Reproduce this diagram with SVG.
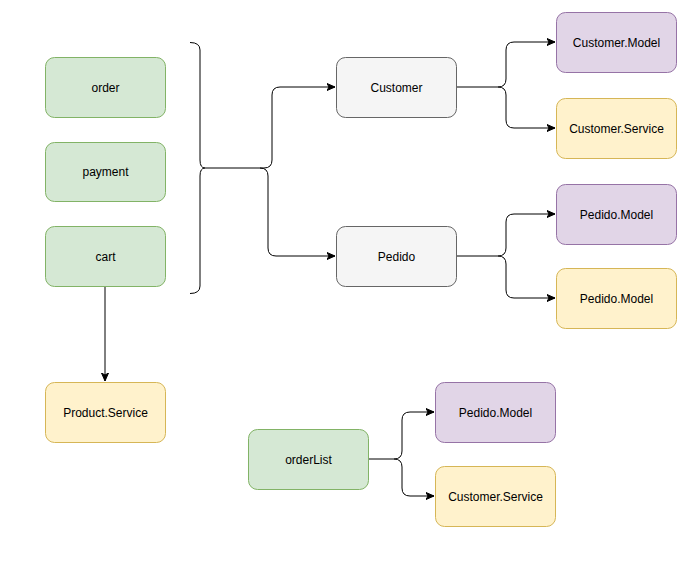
<svg xmlns="http://www.w3.org/2000/svg" width="696" height="579" viewBox="0 0 696 579">
<style>
.n rect{stroke-width:1}
.g rect{fill:#d5e8d4;stroke:#82b366}
.p rect{fill:#e1d5e7;stroke:#9673a6}
.y rect{fill:#fff2cc;stroke:#d6b656}
.k rect{fill:#f5f5f5;stroke:#666666}
text{font-family:"Liberation Sans",Arial,sans-serif;font-size:12px;fill:#000;text-anchor:middle;dominant-baseline:central}
.c path{fill:none;stroke:#000;stroke-width:1}
</style>
<defs>
<marker id="a" markerWidth="10" markerHeight="10" refX="8" refY="5" orient="auto" markerUnits="userSpaceOnUse">
<path d="M0,1.5 L8,5 L0,8.5 L2,5 Z" fill="#000" stroke="#000" stroke-width="1"/>
</marker>
</defs>
<rect width="696" height="579" fill="#fff"/>
<g class="c" id="connectors">
<path d="M190,42.5 Q200,42.5 200,50 L200,160 Q200,168 205,168 Q200,168 200,176 L200,286 Q200,293.5 190,293.5"/>
<path d="M205,168 L264,168 Q272,168 272,160 L272,95 Q272,87 280,87 L335,87" marker-end="url(#a)"/>
<path d="M260,168 Q268,168 268,176 L268,248 Q268,256 276,256 L335,256" marker-end="url(#a)"/>
<path d="M456,87 L498,87 Q506,87 506,79 L506,50 Q506,42 514,42 L555,42" marker-end="url(#a)"/>
<path d="M498,87 Q506,87 506,95 L506,120 Q506,128 514,128 L555,128" marker-end="url(#a)"/>
<path d="M456,256 L498,256 Q506,256 506,248 L506,222 Q506,214 514,214 L555,214" marker-end="url(#a)"/>
<path d="M498,256 Q506,256 506,264 L506,290 Q506,298 514,298 L555,298" marker-end="url(#a)"/>
<path d="M368,459 L394,459 Q402,459 402,451 L402,420 Q402,412 410,412 L434,412" marker-end="url(#a)"/>
<path d="M394,459 Q402,459 402,467 L402,488 Q402,496 410,496 L434,496" marker-end="url(#a)"/>
<path d="M105,286 L105,381" marker-end="url(#a)"/>
</g>
<g id="order" class="n g"><rect x="45.5" y="57.5" width="120" height="60" rx="9"/><text x="105.5" y="87.5">order</text></g>
<g id="payment" class="n g"><rect x="45.5" y="142.5" width="120" height="59" rx="9"/><text x="105.5" y="172">payment</text></g>
<g id="cart" class="n g"><rect x="45.5" y="226.5" width="120" height="60" rx="9"/><text x="105.5" y="256.5">cart</text></g>
<g id="product-service" class="n y"><rect x="45.5" y="382.5" width="120" height="60" rx="9"/><text x="105.5" y="412.5">Product.Service</text></g>
<g id="customer" class="n k"><rect x="336.5" y="57.5" width="120" height="60" rx="9"/><text x="396.5" y="87.5">Customer</text></g>
<g id="pedido" class="n k"><rect x="336.5" y="226.5" width="120" height="60" rx="9"/><text x="396.5" y="256.5">Pedido</text></g>
<g id="customer-model" class="n p"><rect x="556.5" y="12.5" width="120" height="60" rx="9"/><text x="616.5" y="42.5">Customer.Model</text></g>
<g id="customer-service" class="n y"><rect x="556.5" y="98.5" width="120" height="60" rx="9"/><text x="616.5" y="128.5">Customer.Service</text></g>
<g id="pedido-model" class="n p"><rect x="556.5" y="184.5" width="120" height="60" rx="9"/><text x="616.5" y="214.5">Pedido.Model</text></g>
<g id="pedido-model-2" class="n y"><rect x="556.5" y="268.5" width="120" height="60" rx="9"/><text x="616.5" y="298.5">Pedido.Model</text></g>
<g id="orderlist" class="n g"><rect x="248.5" y="429.5" width="120" height="60" rx="9"/><text x="308.5" y="459.5">orderList</text></g>
<g id="orderlist-pedido-model" class="n p"><rect x="435.5" y="382.5" width="120" height="60" rx="9"/><text x="495.5" y="412.5">Pedido.Model</text></g>
<g id="orderlist-customer-service" class="n y"><rect x="435.5" y="466.5" width="120" height="60" rx="9"/><text x="495.5" y="496.5">Customer.Service</text></g>
</svg>
